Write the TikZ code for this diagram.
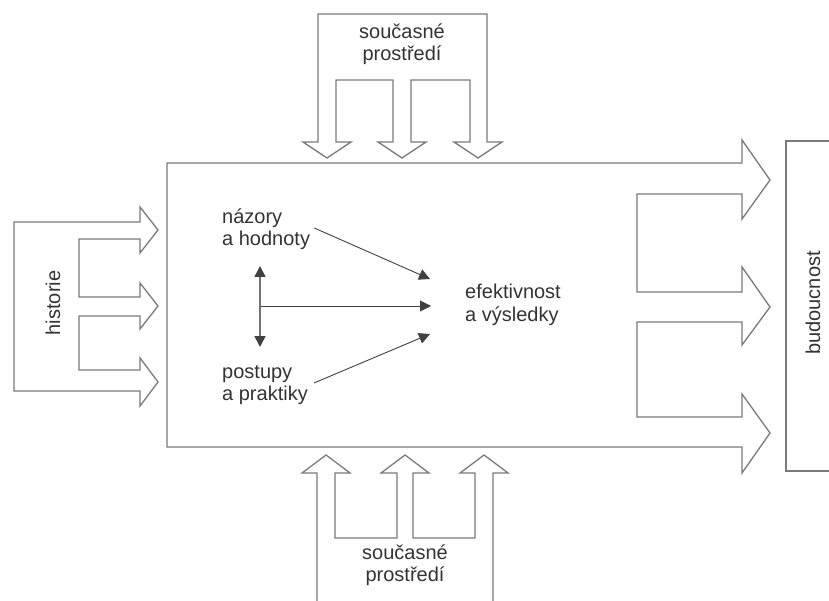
\documentclass[tikz,border=0pt]{standalone}
\usepackage{fontspec}
\setmainfont{Liberation Sans}
\usepackage{tikz}
\usetikzlibrary{arrows.meta,positioning}

\begin{document}
\begin{tikzpicture}[x=1pt,y=-1pt,
		outline/.style={draw=black!52,line width=1.3pt,line join=miter},
		lbl/.style={inner sep=0pt,text=black!80,font=\fontsize{20}{22.5}\selectfont},
		link/.style={draw=black!75,line width=0.9pt,-{Triangle[length=11pt,width=11pt]}}]
	\useasboundingbox (0,0) rectangle (829,601);

	% big arrow in the middle
	\draw[outline] (167,163) -- (742,163) -- (742,140) -- (770,180) -- (742,219) -- (742,194)
		-- (637,194) -- (637,292) -- (742,292) -- (742,267) -- (770,307) -- (742,345) -- (742,322)
		-- (637,322) -- (637,417) -- (742,417) -- (742,394) -- (770,433) -- (742,473) -- (742,447)
		-- (167,447) -- cycle;

	% from the top
	\draw[outline] (336,142) -- (336,80) -- (393,80) -- (393,142) -- (378,142) -- (402,158)
		-- (426,142) -- (411,142) -- (411,80) -- (470,80) -- (470,142) -- (454,142) -- (478,158)
		-- (502,142) -- (487,142) -- (487,14) -- (318,14) -- (318,142) -- (303,142) -- (327,158)
		-- (351,142) -- cycle;

	% from the bottom
	\draw[outline] (317,601) -- (317,473) -- (302,473) -- (326,455) -- (350,473) -- (335,473)
		-- (335,538) -- (397,538) -- (397,473) -- (381,473) -- (405,455) -- (429,473) -- (413,473)
		-- (413,538) -- (475,538) -- (475,473) -- (460,473) -- (484,455) -- (508,473) -- (493,473)
		-- (493,601);

	% from the left
	\draw[outline] (140,222) -- (14,222) -- (14,391) -- (140,391) -- (140,406) -- (158,382)
		-- (140,358) -- (140,370) -- (79,370) -- (79,316) -- (140,316) -- (140,329) -- (158,306)
		-- (140,283) -- (140,297) -- (79,297) -- (79,239) -- (140,239) -- (140,253) -- (158,230)
		-- (140,207) -- cycle;

	% future
	\draw[outline] (829,141) -- (786,141) -- (786,471) -- (829,471);

	\node[lbl,align=center] (okoli1) at (402,44) {současné\\prostředí};
	\node[lbl,align=center] (okoli2) at (405,565) {současné\\prostředí};
	\node[lbl,rotate=90] (historie) at (53,303) {historie};
	\node[lbl,rotate=90] (budoucnost) at (813,303) {budoucnost};

	\node[lbl,anchor=west,align=left] (nazory) at (222,229) {názory\\a hodnoty};
	\node[lbl,anchor=west,align=left] (postupy) at (222,385) {postupy\\a praktiky};
	\node[lbl,anchor=west,align=left] (efekt) at (465,305) {efektivnost\\a výsledky};

	\coordinate (cil1) at (430,279);
	\coordinate (cil2) at (431,306);
	\coordinate (cil3) at (430,334);
	\coordinate (vhore) at (260,266);
	\coordinate (vdole) at (260,347);
	\coordinate (vstred) at (260,306);

	\draw[link] (nazory.east) ++(4,-1) -- (cil1);
	\draw[link] (postupy.east) ++(6,-2) -- (cil3);
	\draw[link] (vstred) -- (cil2);
	\draw[link,draw=black!55,line width=1.6pt,
		{Triangle[length=11pt,width=11pt,color=black!75]}-{Triangle[length=11pt,width=11pt,color=black!75]}]
		(vhore) -- (vdole);
\end{tikzpicture}
\end{document}
